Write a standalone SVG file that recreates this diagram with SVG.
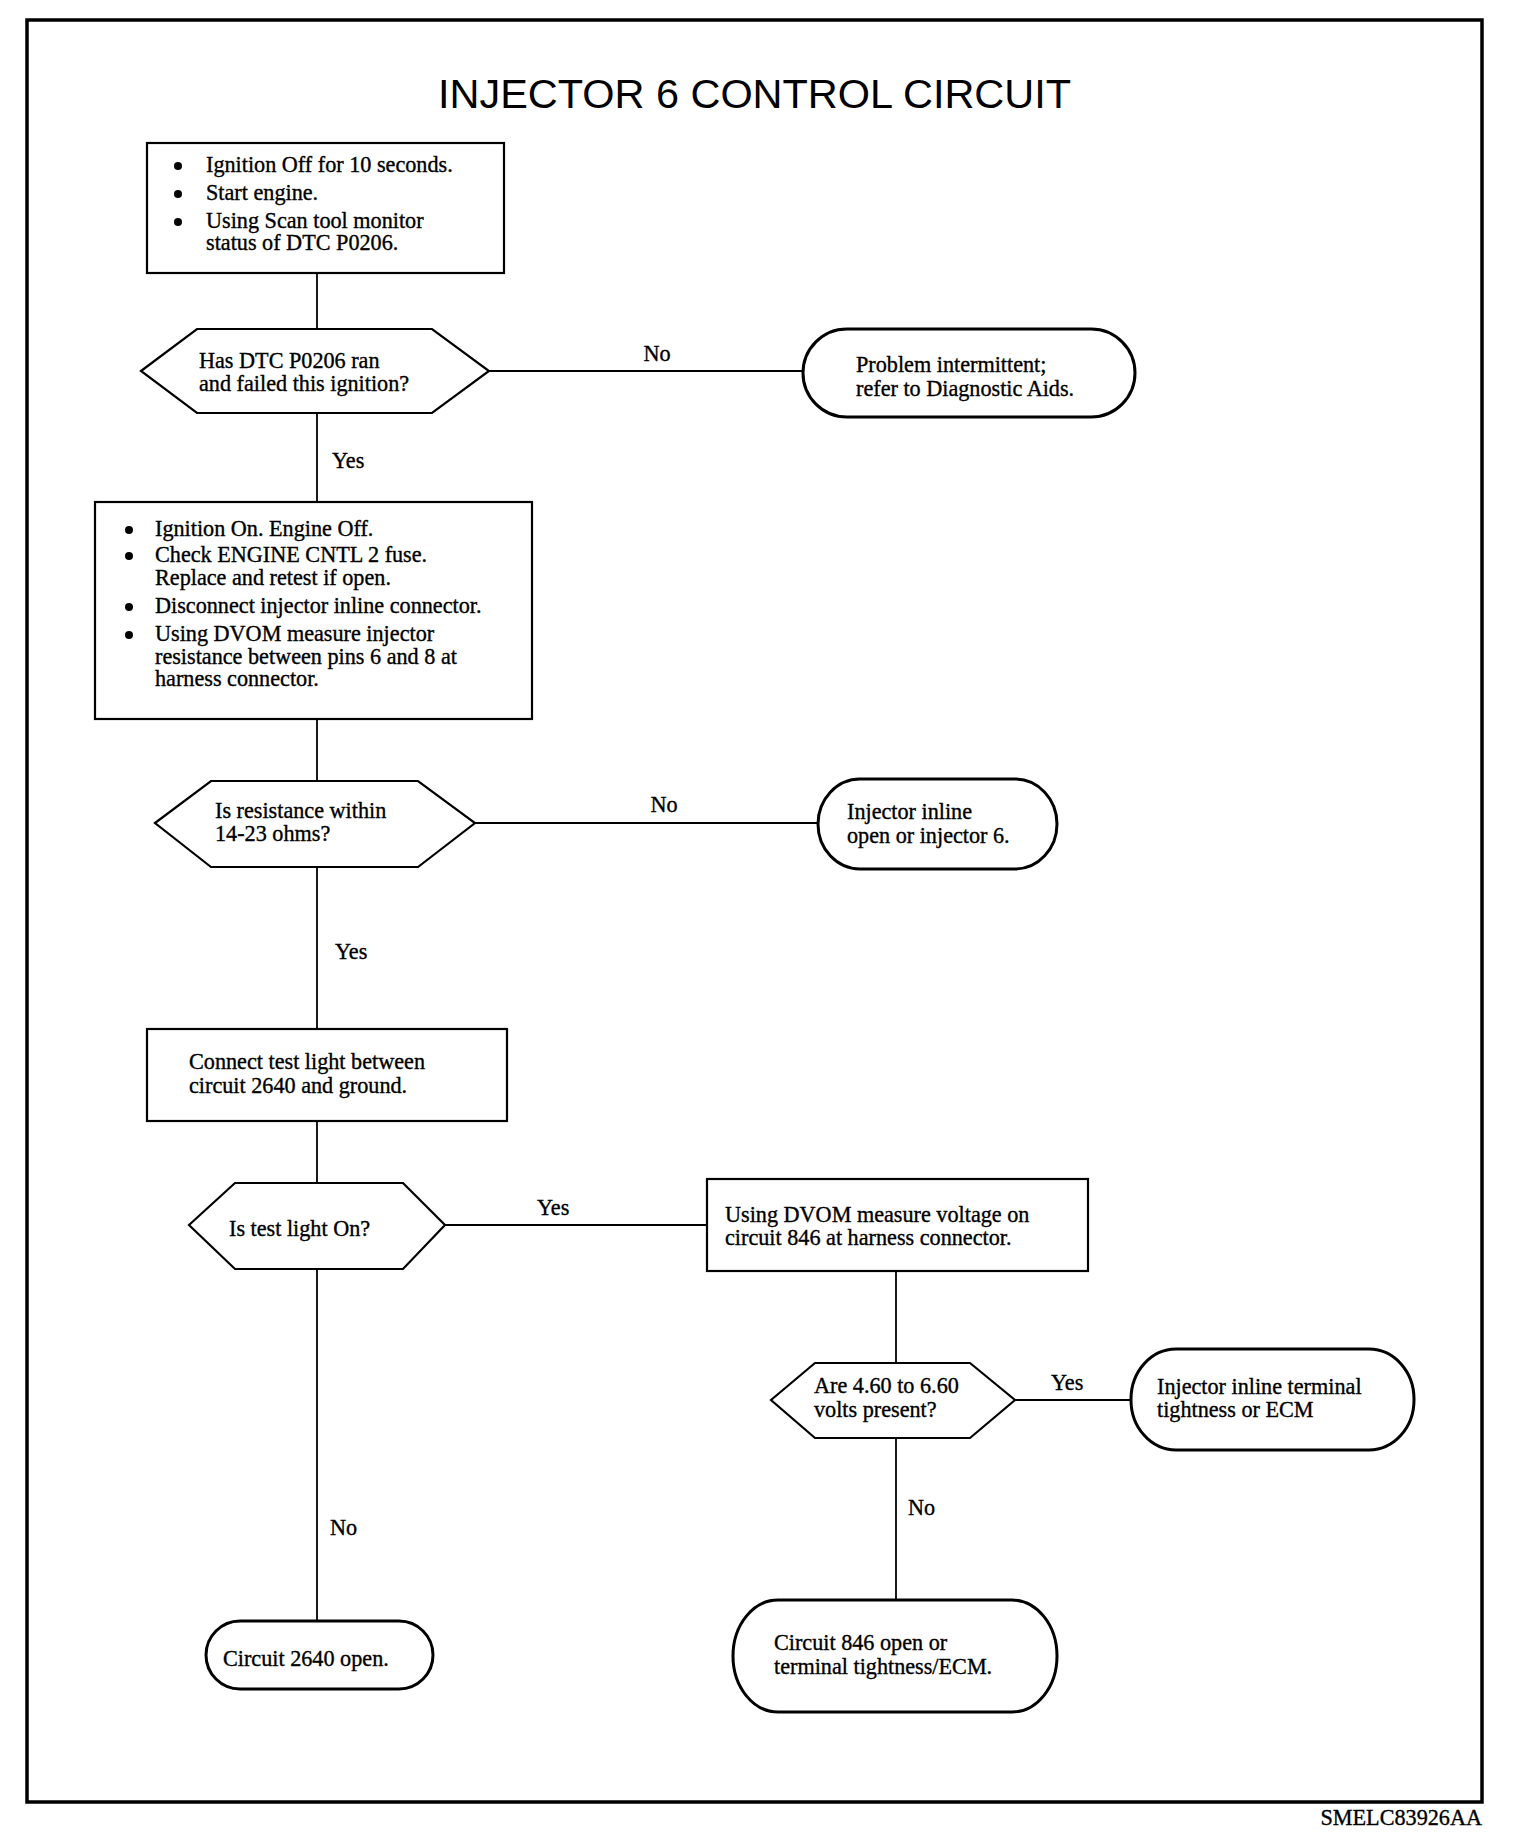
<svg xmlns="http://www.w3.org/2000/svg" width="1520" height="1842" viewBox="0 0 1520 1842">
<style>
.t{font-family:"Liberation Serif","Times New Roman",serif;font-size:22.2px;fill:#000;stroke:#000;stroke-width:0.35}
.title{font-family:"Liberation Sans",Arial,sans-serif;font-size:40px;fill:#000}
.box{fill:#fff;stroke:#000;stroke-width:2.2}
.term{fill:#fff;stroke:#000;stroke-width:3}
.c{stroke:#000;stroke-width:1.8;fill:none}
.dot{fill:#000}
</style>
<rect x="0" y="0" width="1520" height="1842" fill="#fff"/>
<rect x="27" y="20" width="1455" height="1782" fill="none" stroke="#000" stroke-width="3.5"/>
<text class="title" x="438" y="108" textLength="633" lengthAdjust="spacingAndGlyphs">INJECTOR 6 CONTROL CIRCUIT</text>

<g id="connectors">
<line class="c" x1="317" y1="273" x2="317" y2="329"/>
<line class="c" x1="489" y1="371" x2="803" y2="371"/>
<line class="c" x1="317" y1="413" x2="317" y2="502"/>
<line class="c" x1="317" y1="719" x2="317" y2="781"/>
<line class="c" x1="475" y1="823" x2="818" y2="823"/>
<line class="c" x1="317" y1="867" x2="317" y2="1029"/>
<line class="c" x1="317" y1="1121" x2="317" y2="1183"/>
<line class="c" x1="445" y1="1225" x2="707" y2="1225"/>
<line class="c" x1="317" y1="1269" x2="317" y2="1621"/>
<line class="c" x1="896" y1="1271" x2="896" y2="1363"/>
<line class="c" x1="1015" y1="1400" x2="1131" y2="1400"/>
<line class="c" x1="896" y1="1438" x2="896" y2="1600"/>
<text class="t" x="657" y="361" text-anchor="middle">No</text>
<text class="t" x="332" y="468">Yes</text>
<text class="t" x="664" y="812" text-anchor="middle">No</text>
<text class="t" x="335" y="959">Yes</text>
<text class="t" x="537" y="1215">Yes</text>
<text class="t" x="330" y="1535">No</text>
<text class="t" x="1051" y="1390">Yes</text>
<text class="t" x="908" y="1515">No</text>
</g>

<g id="box1">
<rect class="box" x="147" y="143" width="357" height="130"/>
<circle class="dot" cx="178" cy="166" r="4"/>
<circle class="dot" cx="178" cy="194" r="4"/>
<circle class="dot" cx="178" cy="222" r="4"/>
<text class="t" x="206" y="172">Ignition Off for 10 seconds.</text>
<text class="t" x="206" y="200">Start engine.</text>
<text class="t" x="206" y="228">Using Scan tool monitor</text>
<text class="t" x="206" y="250">status of DTC P0206.</text>
</g>

<g id="dec1">
<polygon class="box" points="141,371 197,329 432,329 489,371 432,413 197,413"/>
<text class="t" x="199" y="368">Has DTC P0206 ran</text>
<text class="t" x="199" y="391">and failed this ignition?</text>
</g>

<g id="term1">
<rect class="term" x="803" y="329" width="332" height="88" rx="44" ry="44"/>
<text class="t" x="856" y="372">Problem intermittent;</text>
<text class="t" x="856" y="396">refer to Diagnostic Aids.</text>
</g>

<g id="box2">
<rect class="box" x="95" y="502" width="437" height="217"/>
<circle class="dot" cx="129" cy="530" r="4"/>
<circle class="dot" cx="129" cy="556" r="4"/>
<circle class="dot" cx="129" cy="607" r="4"/>
<circle class="dot" cx="129" cy="635" r="4"/>
<text class="t" x="155" y="536">Ignition On. Engine Off.</text>
<text class="t" x="155" y="562">Check ENGINE CNTL 2 fuse.</text>
<text class="t" x="155" y="585">Replace and retest if open.</text>
<text class="t" x="155" y="613">Disconnect injector inline connector.</text>
<text class="t" x="155" y="641">Using DVOM measure injector</text>
<text class="t" x="155" y="664">resistance between pins 6 and 8 at</text>
<text class="t" x="155" y="686">harness connector.</text>
</g>

<g id="dec2">
<polygon class="box" points="155,823 211,781 418,781 475,823 418,867 211,867"/>
<text class="t" x="215" y="818">Is resistance within</text>
<text class="t" x="215" y="841">14-23 ohms?</text>
</g>

<g id="term2">
<rect class="term" x="818" y="779" width="239" height="90" rx="42" ry="45"/>
<text class="t" x="847" y="819">Injector inline</text>
<text class="t" x="847" y="843">open or injector 6.</text>
</g>

<g id="box3">
<rect class="box" x="147" y="1029" width="360" height="92"/>
<text class="t" x="189" y="1069">Connect test light between</text>
<text class="t" x="189" y="1093">circuit 2640 and ground.</text>
</g>

<g id="dec3">
<polygon class="box" points="189,1225 235,1183 403,1183 445,1225 403,1269 235,1269"/>
<text class="t" x="229" y="1236">Is test light On?</text>
</g>

<g id="box4">
<rect class="box" x="707" y="1179" width="381" height="92"/>
<text class="t" x="725" y="1222">Using DVOM measure voltage on</text>
<text class="t" x="725" y="1245">circuit 846 at harness connector.</text>
</g>

<g id="dec4">
<polygon class="box" points="771,1400 815,1363 970,1363 1015,1400 970,1438 815,1438"/>
<text class="t" x="814" y="1393">Are 4.60 to 6.60</text>
<text class="t" x="814" y="1417">volts present?</text>
</g>

<g id="term3">
<rect class="term" x="1131" y="1349" width="283" height="101" rx="45" ry="50"/>
<text class="t" x="1157" y="1394">Injector inline terminal</text>
<text class="t" x="1157" y="1417">tightness or ECM</text>
</g>

<g id="term4">
<rect class="term" x="206" y="1621" width="227" height="68" rx="34" ry="34"/>
<text class="t" x="223" y="1666">Circuit 2640 open.</text>
</g>

<g id="term5">
<rect class="term" x="733" y="1600" width="324" height="112" rx="45" ry="56"/>
<text class="t" x="774" y="1650">Circuit 846 open or</text>
<text class="t" x="774" y="1674">terminal tightness/ECM.</text>
</g>

<text class="t" x="1482" y="1825" text-anchor="end">SMELC83926AA</text>
</svg>
